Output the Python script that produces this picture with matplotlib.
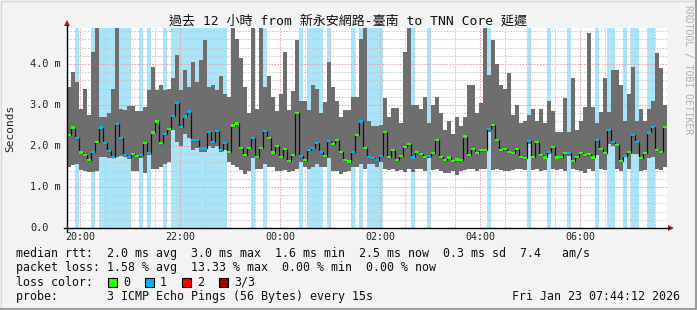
import numpy as np
import matplotlib
matplotlib.use("Agg")
import matplotlib.pyplot as plt
from matplotlib.lines import Line2D
from matplotlib.patches import Rectangle, Polygon

# ---------------- data (ms) ----------------
# 150 consolidated steps of 4.8 min each, starting Thu 19:44:12, ending Fri 07:44:12
smoke_max_ms = [
    3.45, 3.80, 3.55, 2.90, 3.40, 2.76, 4.30, 4.88, 2.70, 2.70,
    2.80, 3.38, 4.88, 2.90, 2.88, 2.98, 2.98, 2.85, 2.85, 2.96,
    3.37, 3.93, 3.37, 3.50, 3.37, 3.40, 3.65, 4.22, 3.37, 3.85,
    3.45, 4.06, 3.57, 4.10, 4.58, 3.45, 3.50, 3.37, 3.70, 3.28,
    3.20, 4.88, 4.60, 4.14, 3.45, 2.80, 4.88, 2.90, 4.88, 3.45,
    3.70, 3.20, 2.85, 3.28, 4.30, 2.88, 3.33, 4.58, 3.10, 3.10,
    2.88, 3.50, 3.40, 2.80, 3.08, 4.05, 3.43, 3.10, 2.70, 2.88,
    2.88, 3.20, 3.20, 4.60, 4.88, 2.60, 2.50, 2.50, 2.50, 3.16,
    2.70, 2.92, 2.92, 2.55, 4.30, 4.88, 3.00, 3.00, 2.90, 3.20,
    2.55, 3.00, 3.20, 2.80, 2.40, 2.60, 2.30, 2.70, 2.50, 2.70,
    3.49, 3.49, 2.80, 3.04, 4.88, 3.73, 4.58, 4.00, 3.49, 3.40,
    3.77, 2.75, 3.00, 2.55, 2.60, 2.75, 2.90, 2.60, 2.90, 2.55,
    3.10, 2.85, 2.35, 2.35, 3.18, 2.35, 3.65, 2.40, 2.60, 2.95,
    4.75, 2.95, 2.55, 2.82, 3.65, 2.82, 3.85, 3.85, 3.49, 2.60,
    3.28, 3.93, 2.60, 2.90, 2.60, 2.90, 3.10, 4.26, 3.90, 3.00,
]
smoke_min_ms = [
    1.50, 1.54, 1.55, 1.42, 1.38, 1.37, 1.37, 1.40, 1.72, 1.72,
    1.70, 1.70, 1.72, 1.75, 1.72, 1.68, 1.40, 1.38, 1.70, 1.35,
    1.78, 1.45, 1.45, 1.50, 1.55, 1.60, 2.40, 2.10, 2.00, 2.30,
    2.20, 1.90, 1.95, 1.85, 1.85, 2.00, 1.95, 2.00, 1.85, 1.90,
    1.62, 1.53, 1.50, 1.42, 1.32, 1.38, 1.70, 1.45, 1.45, 1.55,
    1.50, 1.48, 1.40, 1.38, 1.42, 1.36, 1.40, 1.45, 1.60, 1.50,
    1.45, 1.50, 1.55, 1.50, 1.50, 1.70, 1.40, 1.38, 1.32, 1.36,
    1.40, 1.50, 1.50, 1.55, 1.45, 1.55, 1.55, 1.50, 1.60, 1.45,
    1.42, 1.45, 1.40, 1.42, 1.37, 1.45, 1.37, 1.43, 1.45, 1.40,
    1.70, 1.42, 1.45, 1.40, 1.35, 1.33, 1.38, 1.30, 1.40, 1.42,
    1.45, 1.45, 1.40, 1.43, 1.45, 2.35, 1.42, 1.45, 1.42, 1.40,
    1.38, 1.42, 1.44, 1.45, 1.42, 2.05, 1.42, 1.45, 1.40, 1.42,
    1.80, 1.45, 1.42, 1.45, 1.40, 1.75, 1.43, 1.42, 1.38, 1.35,
    1.45, 1.40, 1.78, 1.45, 1.42, 2.05, 2.00, 1.45, 1.40, 1.72,
    1.43, 1.80, 1.80, 1.40, 1.42, 1.70, 1.72, 1.45, 1.42, 1.48,
]
median_ms = [
    2.27, 2.45, 2.20, 1.84, 1.78, 1.66, 1.86, 2.10, 2.45, 2.07,
    1.88, 1.74, 2.54, 2.20, 1.78, 1.74, 1.80, 1.75, 1.78, 2.07,
    1.82, 2.33, 2.60, 2.07, 2.30, 2.41, 2.74, 3.04, 2.47, 2.72,
    2.84, 2.15, 2.15, 1.94, 1.94, 2.35, 2.09, 2.37, 1.90, 2.07,
    1.86, 2.50, 2.55, 1.96, 1.78, 1.95, 2.20, 1.74, 1.96, 2.37,
    2.20, 1.84, 2.00, 1.74, 1.93, 1.63, 1.78, 2.80, 1.75, 1.65,
    1.90, 1.95, 2.07, 1.85, 1.76, 2.12, 2.05, 2.15, 1.86, 1.66,
    1.62, 1.86, 2.27, 2.60, 1.95, 1.74, 1.70, 1.65, 1.75, 2.35,
    1.74, 1.90, 1.66, 1.76, 1.98, 2.04, 1.72, 1.86, 1.80, 1.74,
    1.76, 1.83, 2.15, 1.74, 1.66, 1.72, 1.63, 1.67, 1.65, 2.23,
    1.78, 1.93, 1.82, 1.90, 1.90, 2.41, 2.51, 2.15, 1.90, 1.93,
    1.86, 1.82, 1.93, 1.74, 1.70, 2.12, 1.74, 2.09, 1.78, 1.72,
    1.86, 1.97, 1.72, 1.74, 1.82, 1.82, 1.63, 1.74, 1.82, 1.78,
    1.80, 1.72, 2.15, 1.93, 1.82, 2.39, 2.10, 2.02, 1.63, 1.76,
    1.86, 2.27, 2.10, 1.70, 1.82, 2.33, 2.47, 1.90, 1.86, 2.47,
]
lost_pings = [
    0, 0, 1, 0, 0, 0, 1, 0, 1, 1,
    1, 1, 1, 1, 1, 1, 0, 0, 1, 0,
    1, 0, 0, 0, 1, 0, 1, 1, 1, 1,
    1, 1, 1, 1, 1, 1, 1, 1, 1, 1,
    0, 0, 0, 0, 0, 0, 1, 0, 0, 1,
    0, 0, 0, 0, 0, 0, 0, 0, 1, 0,
    1, 1, 1, 1, 0, 1, 0, 0, 0, 0,
    0, 1, 0, 1, 0, 1, 1, 1, 1, 0,
    0, 0, 0, 0, 0, 0, 1, 0, 0, 0,
    1, 0, 0, 0, 0, 0, 0, 0, 0, 0,
    0, 0, 0, 0, 0, 1, 0, 0, 0, 0,
    0, 0, 0, 0, 0, 1, 0, 0, 0, 0,
    1, 0, 0, 0, 0, 1, 0, 0, 0, 0,
    0, 0, 1, 0, 0, 1, 1, 0, 0, 1,
    0, 1, 1, 0, 0, 1, 1, 0, 0, 0,
]
step_h = 0.08                       # 4.8 minutes per step
first_hour_offset = 15.8 / 60.0     # 20:00 is 15.8 min after the graph start
major_labels = ["20:00", "22:00", "00:00", "02:00", "04:00", "06:00"]
y_labels = ["0.0", "1.0 m", "2.0 m", "3.0 m", "4.0 m"]

title = "過去 12 小時 from 新永安網路-臺南 to TNN Core 延遲"
line_rtt = "median rtt:  2.0 ms avg  3.0 ms max  1.6 ms min  2.5 ms now  0.3 ms sd  7.4   am/s"
line_loss = "packet loss: 1.58 % avg  13.33 % max  0.00 % min  0.00 % now"
loss_names = ["0", "1", "2", "3/3"]
loss_colors = ["#26ff00", "#00b4f8", "#ff0000", "#a00000"]
probe_line = "probe:       3 ICMP Echo Pings (56 Bytes) every 15s"
date_line = "Fri Jan 23 07:44:12 2026"

# ---------------- figure ----------------
W, H = 697, 310
fig = plt.figure(figsize=(W / 100, H / 100), dpi=100)
fig.patch.set_facecolor("#f3f3f3")

def fx(x):
    return x / W

def fy(y):
    return 1 - y / H

L, R, T, B = 67, 667, 28, 228
px_per_ms = 41.0
ymax = (B - T) / px_per_ms
ax = fig.add_axes([fx(L), fy(B), (R - L) / W, (B - T) / H])
ax.set_facecolor("white")
ax.set_xlim(0, 12)
ax.set_ylim(0, ymax)
for s in ax.spines.values():
    s.set_visible(False)
ax.set_xticks([])
ax.set_yticks([])

n = len(median_ms)
xs = np.arange(n) * step_h
lo = np.array(smoke_min_ms)
hi = np.array(smoke_max_ms)
med = np.array(median_ms)
loss = np.array(lost_pings)

# loss background bands
lm = loss > 0
ax.bar(xs[lm], np.full(lm.sum(), ymax), width=step_h, align="edge",
       color="#aae4f8", linewidth=0, zorder=1)

# grid
mono = "DejaVu Sans Mono"
dots = (0, (1.4, 1.4))
for k in range(0, 24):
    xv = first_hour_offset + 0.5 * k
    if xv > 12:
        break
    if k % 4 == 0:
        ax.axvline(xv, color="#e8a0a0", lw=0.75, ls=dots, zorder=1.5)
    else:
        ax.axvline(xv, color="#c8c8c8", lw=0.75, ls=dots, zorder=1.5)
for k in range(1, 25):
    yv = 0.2 * k
    if yv > ymax:
        break
    if k % 5 == 0:
        ax.axhline(yv, color="#e8a0a0", lw=0.75, ls=dots, zorder=1.5)
    else:
        ax.axhline(yv, color="#c8c8c8", lw=0.75, ls=dots, zorder=1.5)

# smoke
ax.bar(xs, hi - lo, bottom=lo, width=step_h, align="edge",
       color="#6e6e6e", linewidth=0, zorder=2)

# median step line + coloured markers
edges = np.append(xs, xs[-1] + step_h)
ax.stairs(med, edges, baseline=None, color="#111111", lw=0.9, zorder=3)
mh = 2.2 / px_per_ms
mcol = [loss_colors[min(int(v), 3)] for v in loss]
ax.bar(xs, np.full(n, mh), bottom=med - mh / 2, width=step_h, align="edge",
       color=mcol, linewidth=0, zorder=4)

# axes lines and arrows
fig.add_artist(Line2D([fx(64), fx(669)], [fy(228), fy(228)], color="black", lw=1.0))
fig.add_artist(Line2D([fx(67), fx(67)], [fy(231), fy(25)], color="black", lw=1.0))
fig.add_artist(Polygon([[fx(668), fy(225)], [fx(674), fy(228)], [fx(668), fy(231)]],
                       closed=True, color="#a02020", lw=0))
fig.add_artist(Polygon([[fx(64), fy(26)], [fx(67), fy(20)], [fx(70), fy(26)]],
                       closed=True, color="#a02020", lw=0))

# tick labels
for i, lab in enumerate(y_labels):
    fig.text(fx(30), fy(B - i * px_per_ms), lab, family=mono, fontsize=7.4,
             ha="left", va="center", color="#222222")
for i, lab in enumerate(major_labels):
    xv = first_hour_offset + 2 * i
    xp = L + xv / 12 * (R - L)
    fig.text(fx(xp), fy(237.5), lab, family=mono, fontsize=7.2,
             ha="center", va="center", color="#222222")

fig.text(fx(10), fy(128), "Seconds", family=mono, fontsize=8.0, rotation=90,
         ha="center", va="center", color="#222222")

# title
fig.text(fx(348), fy(21), title, family=[mono, "Noto Sans CJK TC"], fontsize=9.4,
         ha="center", va="center", color="#111111")

# watermark
fig.text(fx(688), fy(5), "RRDTOOL / TOBI OETIKER", family=mono, fontsize=7.0,
         rotation=270, ha="center", va="top", color="#b0b0b0")

# legend
lx = 16
fig.text(fx(lx), fy(254), line_rtt, family=mono, fontsize=8.4, ha="left",
         va="center", color="#111111")
fig.text(fx(lx), fy(268), line_loss, family=mono, fontsize=8.4, ha="left",
         va="center", color="#111111")
fig.text(fx(lx), fy(282), "loss color:", family=mono, fontsize=8.4, ha="left",
         va="center", color="#111111")
sq_x = [108, 145, 182, 219]
for sx, name, col in zip(sq_x, loss_names, loss_colors):
    fig.add_artist(Rectangle((fx(sx), fy(286.5)), 8.5 / W, 8.5 / H,
                             facecolor=col, edgecolor="black", lw=0.8))
    fig.text(fx(sx + 15), fy(282), name, family=mono, fontsize=8.4, ha="left",
             va="center", color="#111111")
fig.text(fx(lx), fy(296.5), probe_line, family=mono, fontsize=8.4, ha="left",
         va="center", color="#111111")
fig.text(fx(680), fy(296.5), date_line, family=mono, fontsize=8.4, ha="right",
         va="center", color="#111111")

# frame
fig.add_artist(Line2D([fx(0.5), fx(0.5), fx(696)], [fy(309), fy(0.5), fy(0.5)],
                      color="#d8d8d8", lw=1.0))
fig.add_artist(Line2D([fx(0.5), fx(696), fx(696)], [fy(309), fy(309), fy(0.5)],
                      color="#9a9a9a", lw=1.5))

fig.savefig("out.png", dpi=100, facecolor=fig.get_facecolor())
